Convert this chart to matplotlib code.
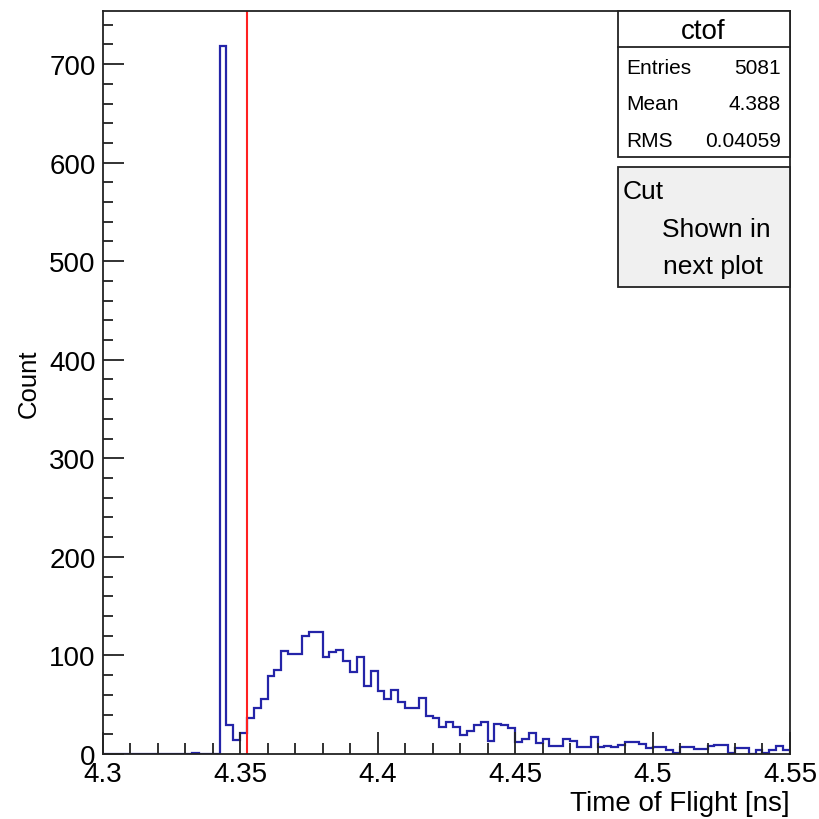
import numpy as np
import matplotlib
matplotlib.use("Agg")
import matplotlib.pyplot as plt
from matplotlib.patches import Rectangle
from matplotlib.ticker import MultipleLocator

plt.rcParams['font.family'] = ['Liberation Sans', 'DejaVu Sans']

# histogram: 100 bins from 4.3 to 4.55 ns
x_lo = 4.3
x_hi = 4.55
n_bins = 100
counts = [
    0, 0, 0, 0, 0, 0, 0, 0, 0, 0,
    0, 0, 0, 1, 0, 0, 0, 718, 29, 14,
    21, 37, 47, 56, 79, 85, 104, 101, 101, 120,
    124, 124, 98, 103, 106, 94, 83, 98, 69, 84,
    64, 56, 65, 53, 47, 47, 57, 39, 37, 27,
    32, 27, 19, 23, 29, 32, 13, 30, 29, 26,
    12, 15, 21, 11, 15, 8, 8, 15, 13, 7,
    7, 17, 7, 8, 7, 9, 12, 12, 10, 6,
    7, 7, 4, 1, 7, 7, 5, 5, 8, 9,
    9, 1, 6, 6, 0, 4, 1, 4, 8, 4,
]
cut_value = 4.3524

stats_title = "ctof"
stats_names = ["Entries", "Mean", "RMS"]
stats_values = ["5081", "4.388", "0.04059"]

edges = np.linspace(x_lo, x_hi, n_bins + 1)

fig = plt.figure(figsize=(8.2, 8.2), dpi=100)
ax = fig.add_axes([0.1252, 0.0793, 0.8382, 0.9061])

ax.stairs(counts, edges, color='#2424a8', linewidth=1.6)
ax.axvline(cut_value, color='#ff2020', linewidth=1.5)

ax.set_xlim(x_lo, x_hi)
ax.set_ylim(0, max(counts) * 1.05)

ax.xaxis.set_major_locator(MultipleLocator(0.05))
ax.xaxis.set_minor_locator(MultipleLocator(0.01))
ax.yaxis.set_major_locator(MultipleLocator(100))
ax.yaxis.set_minor_locator(MultipleLocator(20))
ax.xaxis.set_major_formatter(plt.FuncFormatter(lambda v, p: f"{v:g}"))

ax.tick_params(axis='both', which='both', direction='in', top=False, right=False,
               color='#222222', width=1.3)
ax.tick_params(axis='x', which='major', length=16, labelsize=20, pad=5)
ax.tick_params(axis='x', which='minor', length=8)
ax.tick_params(axis='y', which='major', length=15, labelsize=20, pad=5)
ax.tick_params(axis='y', which='minor', length=7.5)
for s in ax.spines.values():
    s.set_linewidth(1.3)
    s.set_color('#222222')

ax.set_xlabel("Time of Flight [ns]", fontsize=20, loc='right', labelpad=2)
ax.set_ylabel("Count", fontsize=18.5)
ax.yaxis.set_label_coords(-0.09, 0.5)

# stats box
tr = ax.transAxes
ax.add_patch(Rectangle((0.750, 0.8031), 0.25, 0.1969, transform=tr, facecolor='white',
                       edgecolor='#222222', linewidth=1.3, clip_on=False, zorder=5))
ax.plot([0.750, 1.0], [0.9511, 0.9511], transform=tr, color='#222222', linewidth=1.3,
        clip_on=False, zorder=6)
ax.text(0.8734, 0.9735, stats_title, transform=tr, fontsize=20, ha='center', va='center', zorder=7)
row_y = [0.9241, 0.8761, 0.8253]
for name, val, yy in zip(stats_names, stats_values, row_y):
    ax.text(0.7624, yy, name, transform=tr, fontsize=15, ha='left', va='center', zorder=7)
    ax.text(0.9865, yy, val, transform=tr, fontsize=15, ha='right', va='center', zorder=7)

# cut note box
ax.add_patch(Rectangle((0.750, 0.6281), 0.25, 0.1615, transform=tr, facecolor='#f0f0f0',
                       edgecolor='#222222', linewidth=1.3, clip_on=False, zorder=5))
ax.text(0.7566, 0.758, "Cut", transform=tr, fontsize=19, ha='left', va='center', zorder=7)
ax.text(0.8934, 0.7066, "Shown in", transform=tr, fontsize=19, ha='center', va='center', zorder=7)
ax.text(0.888, 0.6572, "next plot", transform=tr, fontsize=19, ha='center', va='center', zorder=7)

fig.savefig("out.png", dpi=100)
